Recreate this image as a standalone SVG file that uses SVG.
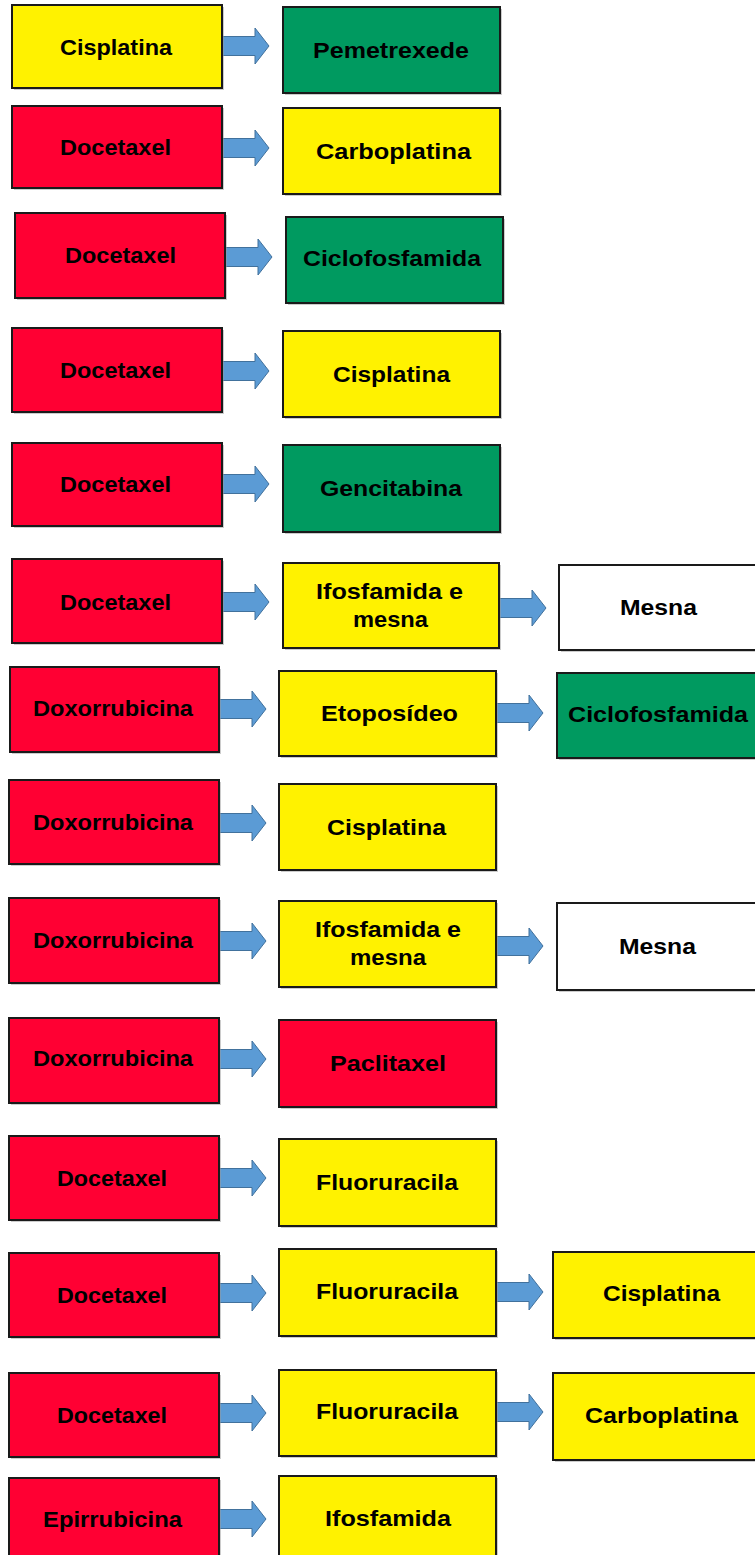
<svg xmlns="http://www.w3.org/2000/svg" xmlns:xlink="http://www.w3.org/1999/xlink" width="755" height="1555" viewBox="0 0 755 1555">
<defs>
<style>
.box{stroke:#1a1a1a;stroke-width:2}
.sh{fill:#9a9a9a;opacity:0.5}
.y{fill:#fff200}
.r{fill:#ff0033}
.g{fill:#009a60}
.w{fill:#ffffff}
.t{font-family:"Liberation Sans",Arial,sans-serif;font-weight:bold;font-size:22px;fill:#000;text-anchor:middle;dominant-baseline:central}
.arrow{fill:#5b9bd5;stroke:#41719c;stroke-width:1}
</style>
<path id="arr" class="arrow" d="M0,-9.5 H33 V-18 L47,0 L33,18 V9.5 H0 Z"/>
</defs>
<rect width="755" height="1555" fill="#ffffff"/>
<g id="connectors">
<use xlink:href="#arr" x="222" y="46"/>
<use xlink:href="#arr" x="222" y="148"/>
<use xlink:href="#arr" x="225" y="257"/>
<use xlink:href="#arr" x="222" y="371"/>
<use xlink:href="#arr" x="222" y="484"/>
<use xlink:href="#arr" x="222" y="602"/>
<use xlink:href="#arr" x="499" y="608"/>
<use xlink:href="#arr" x="219" y="709"/>
<use xlink:href="#arr" x="496" y="713"/>
<use xlink:href="#arr" x="219" y="823"/>
<use xlink:href="#arr" x="219" y="941"/>
<use xlink:href="#arr" x="496" y="946"/>
<use xlink:href="#arr" x="219" y="1059"/>
<use xlink:href="#arr" x="219" y="1178"/>
<use xlink:href="#arr" x="219" y="1293"/>
<use xlink:href="#arr" x="496" y="1292"/>
<use xlink:href="#arr" x="219" y="1413"/>
<use xlink:href="#arr" x="496" y="1412"/>
<use xlink:href="#arr" x="219" y="1519"/>
</g>
<g id="n1a"><rect class="sh" x="14" y="7" width="210" height="83"/><rect class="box y" x="12" y="5" width="210" height="83"/><text class="t" x="116" y="47" textLength="112" lengthAdjust="spacingAndGlyphs">Cisplatina</text></g>
<g id="n1b"><rect class="sh" x="285" y="9" width="217" height="86"/><rect class="box g" x="283" y="7" width="217" height="86"/><text class="t" x="391" y="50" textLength="156" lengthAdjust="spacingAndGlyphs">Pemetrexede</text></g>
<g id="n2a"><rect class="sh" x="14" y="108" width="210" height="82"/><rect class="box r" x="12" y="106" width="210" height="82"/><text class="t" x="115.5" y="147" textLength="111" lengthAdjust="spacingAndGlyphs">Docetaxel</text></g>
<g id="n2b"><rect class="sh" x="285" y="110" width="217" height="86"/><rect class="box y" x="283" y="108" width="217" height="86"/><text class="t" x="393.5" y="151" textLength="155" lengthAdjust="spacingAndGlyphs">Carboplatina</text></g>
<g id="n3a"><rect class="sh" x="17" y="215" width="210" height="85"/><rect class="box r" x="15" y="213" width="210" height="85"/><text class="t" x="120.5" y="255" textLength="111" lengthAdjust="spacingAndGlyphs">Docetaxel</text></g>
<g id="n3b"><rect class="sh" x="288" y="219" width="217" height="86"/><rect class="box g" x="286" y="217" width="217" height="86"/><text class="t" x="392" y="258" textLength="178" lengthAdjust="spacingAndGlyphs">Ciclofosfamida</text></g>
<g id="n4a"><rect class="sh" x="14" y="330" width="210" height="84"/><rect class="box r" x="12" y="328" width="210" height="84"/><text class="t" x="115.5" y="370" textLength="111" lengthAdjust="spacingAndGlyphs">Docetaxel</text></g>
<g id="n4b"><rect class="sh" x="285" y="333" width="217" height="86"/><rect class="box y" x="283" y="331" width="217" height="86"/><text class="t" x="391.5" y="374" textLength="117" lengthAdjust="spacingAndGlyphs">Cisplatina</text></g>
<g id="n5a"><rect class="sh" x="14" y="445" width="210" height="83"/><rect class="box r" x="12" y="443" width="210" height="83"/><text class="t" x="115.5" y="484" textLength="111" lengthAdjust="spacingAndGlyphs">Docetaxel</text></g>
<g id="n5b"><rect class="sh" x="285" y="447" width="217" height="87"/><rect class="box g" x="283" y="445" width="217" height="87"/><text class="t" x="391" y="488" textLength="142" lengthAdjust="spacingAndGlyphs">Gencitabina</text></g>
<g id="n6a"><rect class="sh" x="14" y="561" width="210" height="84"/><rect class="box r" x="12" y="559" width="210" height="84"/><text class="t" x="115.5" y="602" textLength="111" lengthAdjust="spacingAndGlyphs">Docetaxel</text></g>
<g id="n6b"><rect class="sh" x="285" y="565" width="216" height="85"/><rect class="box y" x="283" y="563" width="216" height="85"/><text class="t" x="389.5" y="591" textLength="147" lengthAdjust="spacingAndGlyphs">Ifosfamida e</text><text class="t" x="390.5" y="619" textLength="75" lengthAdjust="spacingAndGlyphs">mesna</text></g>
<g id="n6c"><rect class="sh" x="561" y="567" width="200" height="85"/><rect class="box w" x="559" y="565" width="200" height="85"/><text class="t" x="658.5" y="607" textLength="77" lengthAdjust="spacingAndGlyphs">Mesna</text></g>
<g id="n7a"><rect class="sh" x="12" y="669" width="209" height="85"/><rect class="box r" x="10" y="667" width="209" height="85"/><text class="t" x="113" y="708" textLength="160" lengthAdjust="spacingAndGlyphs">Doxorrubicina</text></g>
<g id="n7b"><rect class="sh" x="281" y="673" width="217" height="85"/><rect class="box y" x="279" y="671" width="217" height="85"/><text class="t" x="389.5" y="713" textLength="137" lengthAdjust="spacingAndGlyphs">Etoposídeo</text></g>
<g id="n7c"><rect class="sh" x="559" y="675" width="200" height="85"/><rect class="box g" x="557" y="673" width="200" height="85"/><text class="t" x="658" y="714" textLength="180" lengthAdjust="spacingAndGlyphs">Ciclofosfamida</text></g>
<g id="n8a"><rect class="sh" x="11" y="782" width="210" height="84"/><rect class="box r" x="9" y="780" width="210" height="84"/><text class="t" x="113" y="822" textLength="160" lengthAdjust="spacingAndGlyphs">Doxorrubicina</text></g>
<g id="n8b"><rect class="sh" x="281" y="786" width="217" height="86"/><rect class="box y" x="279" y="784" width="217" height="86"/><text class="t" x="386.5" y="827" textLength="119" lengthAdjust="spacingAndGlyphs">Cisplatina</text></g>
<g id="n9a"><rect class="sh" x="11" y="900" width="210" height="85"/><rect class="box r" x="9" y="898" width="210" height="85"/><text class="t" x="113" y="940" textLength="160" lengthAdjust="spacingAndGlyphs">Doxorrubicina</text></g>
<g id="n9b"><rect class="sh" x="281" y="903" width="217" height="86"/><rect class="box y" x="279" y="901" width="217" height="86"/><text class="t" x="388" y="929" textLength="146" lengthAdjust="spacingAndGlyphs">Ifosfamida e</text><text class="t" x="388" y="957" textLength="76" lengthAdjust="spacingAndGlyphs">mesna</text></g>
<g id="n9c"><rect class="sh" x="559" y="905" width="200" height="87"/><rect class="box w" x="557" y="903" width="200" height="87"/><text class="t" x="657.5" y="946" textLength="77" lengthAdjust="spacingAndGlyphs">Mesna</text></g>
<g id="n10a"><rect class="sh" x="11" y="1020" width="210" height="85"/><rect class="box r" x="9" y="1018" width="210" height="85"/><text class="t" x="113" y="1058" textLength="160" lengthAdjust="spacingAndGlyphs">Doxorrubicina</text></g>
<g id="n10b"><rect class="sh" x="281" y="1022" width="217" height="87"/><rect class="box r" x="279" y="1020" width="217" height="87"/><text class="t" x="388" y="1063" textLength="116" lengthAdjust="spacingAndGlyphs">Paclitaxel</text></g>
<g id="n11a"><rect class="sh" x="11" y="1138" width="210" height="84"/><rect class="box r" x="9" y="1136" width="210" height="84"/><text class="t" x="112" y="1178" textLength="110" lengthAdjust="spacingAndGlyphs">Docetaxel</text></g>
<g id="n11b"><rect class="sh" x="281" y="1141" width="217" height="87"/><rect class="box y" x="279" y="1139" width="217" height="87"/><text class="t" x="387" y="1182" textLength="142" lengthAdjust="spacingAndGlyphs">Fluoruracila</text></g>
<g id="n12a"><rect class="sh" x="11" y="1255" width="210" height="84"/><rect class="box r" x="9" y="1253" width="210" height="84"/><text class="t" x="112" y="1295" textLength="110" lengthAdjust="spacingAndGlyphs">Docetaxel</text></g>
<g id="n12b"><rect class="sh" x="281" y="1251" width="217" height="87"/><rect class="box y" x="279" y="1249" width="217" height="87"/><text class="t" x="387" y="1291" textLength="142" lengthAdjust="spacingAndGlyphs">Fluoruracila</text></g>
<g id="n12c"><rect class="sh" x="555" y="1254" width="215" height="86"/><rect class="box y" x="553" y="1252" width="215" height="86"/><text class="t" x="661.5" y="1293" textLength="117" lengthAdjust="spacingAndGlyphs">Cisplatina</text></g>
<g id="n13a"><rect class="sh" x="11" y="1375" width="210" height="84"/><rect class="box r" x="9" y="1373" width="210" height="84"/><text class="t" x="112" y="1415" textLength="110" lengthAdjust="spacingAndGlyphs">Docetaxel</text></g>
<g id="n13b"><rect class="sh" x="281" y="1372" width="217" height="86"/><rect class="box y" x="279" y="1370" width="217" height="86"/><text class="t" x="387" y="1411" textLength="142" lengthAdjust="spacingAndGlyphs">Fluoruracila</text></g>
<g id="n13c"><rect class="sh" x="555" y="1375" width="215" height="87"/><rect class="box y" x="553" y="1373" width="215" height="87"/><text class="t" x="661.5" y="1415" textLength="153" lengthAdjust="spacingAndGlyphs">Carboplatina</text></g>
<g id="n14a"><rect class="sh" x="11" y="1480" width="210" height="85"/><rect class="box r" x="9" y="1478" width="210" height="85"/><text class="t" x="112.5" y="1519" textLength="139" lengthAdjust="spacingAndGlyphs">Epirrubicina</text></g>
<g id="n14b"><rect class="sh" x="281" y="1478" width="217" height="85"/><rect class="box y" x="279" y="1476" width="217" height="85"/><text class="t" x="388" y="1518" textLength="126" lengthAdjust="spacingAndGlyphs">Ifosfamida</text></g>
</svg>
